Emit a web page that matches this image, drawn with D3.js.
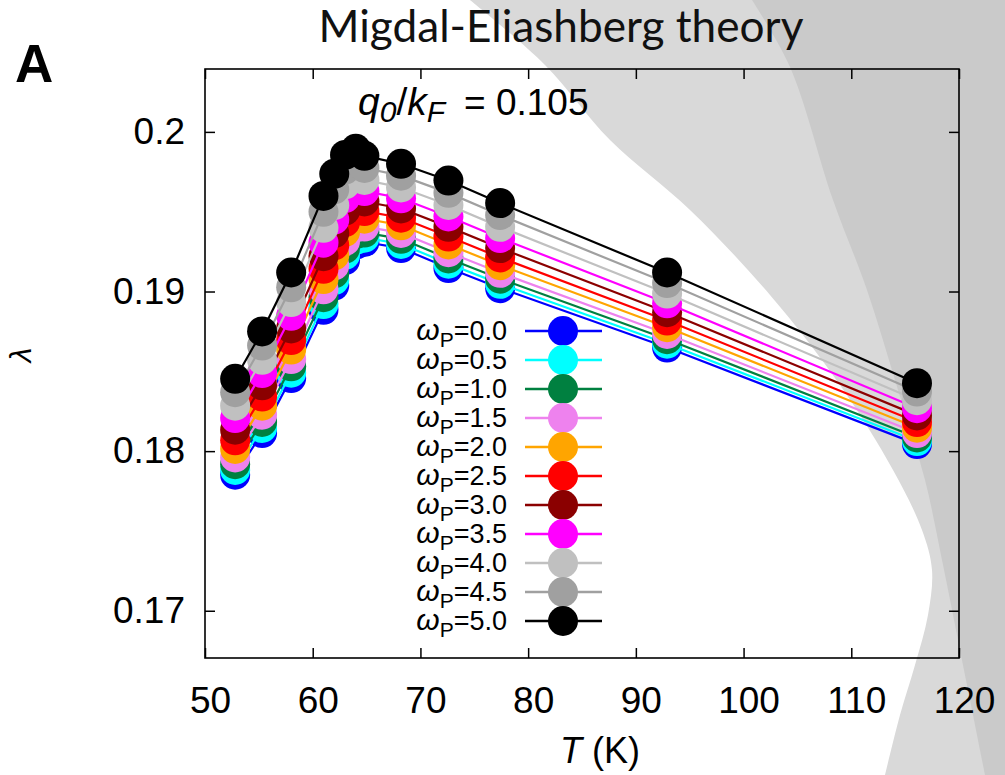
<!DOCTYPE html>
<html>
<head>
<meta charset="UTF-8">
<title>Migdal-Eliashberg theory</title>
<style>
	body { margin: 0; background: white; }
	svg text { font-family: "Liberation Sans", Arial, sans-serif; }
</style>
</head>
<body>
<svg id="chart" width="1005" height="775"></svg>
<script src="https://d3js.org/d3.v7.min.js"></script>
<script>

// Temperatures (K) of the computed points
const temperatures = [52.8, 55.3, 58.0, 61.0, 62.0, 63.0, 64.0, 64.8, 68.2, 72.6, 77.4, 92.9, 116.1];

// lambda for each omega_P
const lambda_w00 = [0.17852, 0.18113, 0.18458, 0.18885, 0.19037, 0.19196, 0.19294, 0.19310, 0.19272, 0.19147, 0.19021, 0.18649, 0.18044];
const lambda_w05 = [0.17882, 0.18145, 0.18491, 0.18921, 0.19072, 0.19229, 0.19324, 0.19337, 0.19298, 0.19174, 0.19048, 0.18673, 0.18063];
const lambda_w10 = [0.17918, 0.18183, 0.18531, 0.18964, 0.19114, 0.19269, 0.19360, 0.19369, 0.19330, 0.19207, 0.19080, 0.18701, 0.18086];
const lambda_w15 = [0.17960, 0.18228, 0.18577, 0.19014, 0.19163, 0.19315, 0.19402, 0.19407, 0.19367, 0.19246, 0.19117, 0.18734, 0.18113];
const lambda_w20 = [0.18014, 0.18285, 0.18636, 0.19078, 0.19226, 0.19374, 0.19456, 0.19456, 0.19415, 0.19295, 0.19165, 0.18776, 0.18147];
const lambda_w25 = [0.18068, 0.18342, 0.18696, 0.19142, 0.19289, 0.19434, 0.19510, 0.19504, 0.19462, 0.19344, 0.19213, 0.18818, 0.18182];
const lambda_w30 = [0.18134, 0.18412, 0.18769, 0.19221, 0.19366, 0.19506, 0.19576, 0.19564, 0.19520, 0.19405, 0.19272, 0.18870, 0.18224];
const lambda_w35 = [0.18207, 0.18489, 0.18848, 0.19306, 0.19450, 0.19585, 0.19648, 0.19629, 0.19584, 0.19470, 0.19335, 0.18926, 0.18269];
const lambda_w40 = [0.18285, 0.18572, 0.18934, 0.19399, 0.19541, 0.19671, 0.19726, 0.19699, 0.19652, 0.19542, 0.19405, 0.18987, 0.18319];
const lambda_w45 = [0.18369, 0.18661, 0.19026, 0.19499, 0.19639, 0.19764, 0.19810, 0.19774, 0.19726, 0.19618, 0.19479, 0.19053, 0.18373];
const lambda_w50 = [0.18453, 0.18750, 0.19119, 0.19599, 0.19737, 0.19856, 0.19894, 0.19850, 0.19800, 0.19695, 0.19554, 0.19119, 0.18426];

const omegaLabels = ["0.0", "0.5", "1.0", "1.5", "2.0", "2.5", "3.0", "3.5", "4.0", "4.5", "5.0"];
const lambdaSeries = [lambda_w00, lambda_w05, lambda_w10, lambda_w15, lambda_w20, lambda_w25,
	lambda_w30, lambda_w35, lambda_w40, lambda_w45, lambda_w50];
const seriesColors = ["#0000ff", "#00ffff", "#008040", "#ee82ee", "#ffa500", "#ff0000",
	"#8b0000", "#ff00ff", "#c0c0c0", "#a0a0a0", "#000000"];

const xTicks = [50, 60, 70, 80, 90, 100, 110, 120];
const yTicks = [0.17, 0.18, 0.19, 0.2];

// decorative slide background (two curved grey bands on the right)
const bgLight = [[470, 0], [545, 65], [610, 140], [690, 210], [770, 295], [840, 385], [893, 470],
	[922, 530], [932, 570], [928, 615], [915, 665], [900, 715], [885, 775]];
const bgDark = [[752, 0], [790, 67], [833, 200], [867, 290], [898, 390], [925, 480], [942, 560],
	[958, 640], [972, 710], [985, 775]];

// plot box
const plotL = 205, plotR = 959, plotT = 69, plotB = 658;

let svg = d3.select("#chart");

let x = d3.scaleLinear().domain([50, 120]).range([plotL, plotR]);
let y = d3.scaleLinear().domain([0.16704, 0.20394]).range([plotB, plotT]);

// background
let bgCurve = d3.line().curve(d3.curveCatmullRom);
svg.append("path")
	.attr("d", bgCurve(bgLight) + "L1005,775L1005,0Z")
	.attr("fill", "#d9d9d9");
svg.append("path")
	.attr("d", bgCurve(bgDark) + "L1005,775L1005,0Z")
	.attr("fill", "#cacaca");

// title
let title = svg.append("text")
	.attr("x", 561)
	.attr("y", 42)
	.attr("text-anchor", "middle")
	.style("font-family", "Lato, 'Open Sans', sans-serif")
	.attr("font-size", 40)
	.attr("fill", "#111")
	.text("Migdal-Eliashberg theory");
let tw = title.node().getComputedTextLength();
title.attr("font-size", 40 * 485 / tw);

// panel letter
svg.append("text")
	.attr("x", 15)
	.attr("y", 82)
	.attr("font-size", 53)
	.attr("font-weight", "bold")
	.text("A");

// axes
svg.append("g")
	.attr("transform", "translate(0," + plotB + ")")
	.call(d3.axisBottom(x).tickValues(xTicks).tickSizeInner(-10).tickSizeOuter(0).tickPadding(29).tickFormat(d3.format("d")))
	.call(g => g.select(".domain").remove())
	.call(g => g.selectAll("line").attr("stroke-width", 1.5))
	.call(g => g.selectAll("text").attr("dx", 5))
	.attr("font-family", "'Liberation Sans', Arial, sans-serif")
	.attr("font-size", 37);

svg.append("g")
	.attr("transform", "translate(0," + plotT + ")")
	.call(d3.axisTop(x).tickValues(xTicks).tickSizeInner(-10).tickSizeOuter(0).tickFormat(""))
	.call(g => g.select(".domain").remove())
	.call(g => g.selectAll("line").attr("stroke-width", 1.5));

svg.append("g")
	.attr("transform", "translate(" + plotL + ",0)")
	.call(d3.axisLeft(y).tickValues(yTicks).tickSizeInner(-10).tickSizeOuter(0).tickPadding(20).tickFormat(d => String(d)))
	.call(g => g.select(".domain").remove())
	.call(g => g.selectAll("line").attr("stroke-width", 1.5))
	.attr("font-family", "'Liberation Sans', Arial, sans-serif")
	.attr("font-size", 37);

svg.append("g")
	.attr("transform", "translate(" + plotR + ",0)")
	.call(d3.axisRight(y).tickValues(yTicks).tickSizeInner(-10).tickSizeOuter(0).tickFormat(""))
	.call(g => g.select(".domain").remove())
	.call(g => g.selectAll("line").attr("stroke-width", 1.5));

svg.append("rect")
	.attr("x", plotL)
	.attr("y", plotT)
	.attr("width", plotR - plotL)
	.attr("height", plotB - plotT)
	.attr("fill", "none")
	.attr("stroke", "black")
	.attr("stroke-width", 1.6);

// axis labels
svg.append("text")
	.attr("x", 600)
	.attr("y", 763)
	.attr("text-anchor", "middle")
	.attr("font-size", 36)
	.html('<tspan font-style="italic">T</tspan> (K)');

svg.append("text")
	.attr("transform", "translate(31,355) rotate(-90)")
	.attr("text-anchor", "middle")
	.attr("font-size", 30)
	.attr("font-style", "italic")
	.text("λ");

// q0/kF annotation
svg.append("text")
	.attr("x", 358)
	.attr("y", 115)
	.attr("font-size", 39)
	.html('<tspan font-style="italic">q</tspan><tspan font-style="italic" font-size="30" dy="7">0</tspan>' +
		'<tspan dy="-7">/</tspan><tspan font-style="italic">k</tspan><tspan font-style="italic" font-size="30" dy="7">F</tspan>');
svg.append("text")
	.attr("x", 464)
	.attr("y", 115)
	.attr("font-size", 37)
	.text("= 0.105");

// series: line first, then its points
let line = d3.line()
	.x((d, i) => x(temperatures[i]))
	.y(d => y(d));

lambdaSeries.forEach((vals, k) => {
	let g = svg.append("g").attr("class", "series");
	g.append("path")
		.attr("d", line(vals))
		.attr("fill", "none")
		.attr("stroke", seriesColors[k])
		.attr("stroke-width", 2.2);
	g.selectAll("circle")
		.data(vals)
		.enter()
		.append("circle")
		.attr("cx", (d, i) => x(temperatures[i]))
		.attr("cy", d => y(d))
		.attr("r", 15)
		.attr("fill", seriesColors[k]);
});

// legend
let legend = svg.append("g").attr("class", "legend");
omegaLabels.forEach((lab, k) => {
	let ly = 331 + 29 * k;
	legend.append("text")
		.attr("x", 507)
		.attr("y", ly + 8.5)
		.attr("text-anchor", "end")
		.attr("font-size", 27)
		.html('<tspan font-style="italic" font-size="30">ω</tspan><tspan font-size="21" dy="7.5">P</tspan><tspan dy="-7.5">=' + lab + '</tspan>');
	legend.append("line")
		.attr("x1", 525)
		.attr("x2", 602)
		.attr("y1", ly)
		.attr("y2", ly)
		.attr("stroke", seriesColors[k])
		.attr("stroke-width", 2.5);
	legend.append("circle")
		.attr("cx", 563)
		.attr("cy", ly)
		.attr("r", 15)
		.attr("fill", seriesColors[k]);
});

</script>
</body>
</html>
